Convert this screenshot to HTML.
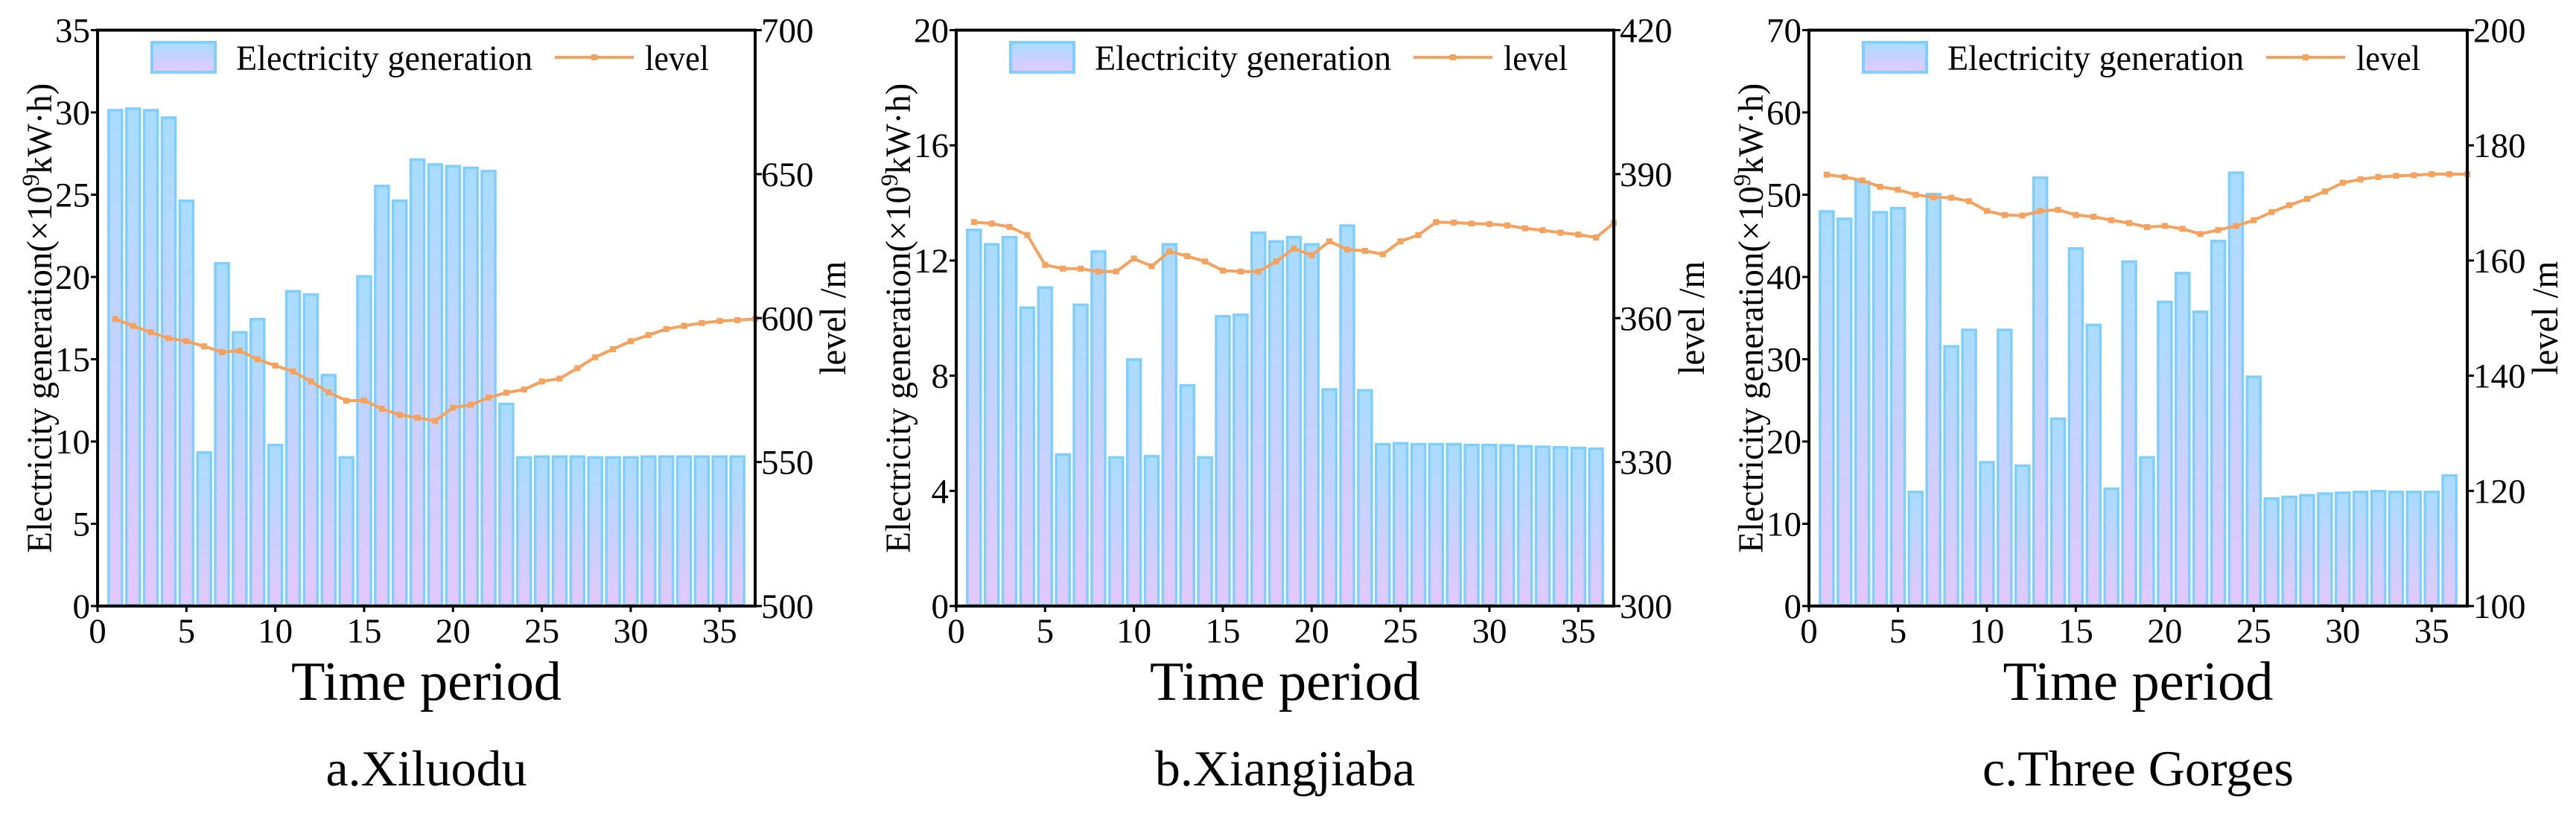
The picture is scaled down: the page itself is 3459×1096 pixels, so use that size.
<!DOCTYPE html>
<html><head><meta charset="utf-8"><style>
html,body{margin:0;padding:0;background:#fff;}
svg, svg text{font-family:"Liberation Serif","Times New Roman",serif;}
</style></head><body>
<svg id="fig" width="3459" height="1091" viewBox="0 0 3459 1091" xmlns="http://www.w3.org/2000/svg" font-family="Liberation Serif, serif">
<defs>
<linearGradient id="barGrad" x1="0" y1="0" x2="0" y2="1">
<stop offset="0" stop-color="#a8dcfe"/><stop offset="1" stop-color="#e4c8fd"/>
</linearGradient>
</defs>
</svg>
<script>
// Panel a: Xiluodu
const genA = [30.2,30.3,30.2,29.75,24.7,9.4,20.9,16.7,17.5,9.85,19.2,19.0,14.1,9.1,20.1,25.6,24.7,27.2,26.9,26.8,26.7,26.5,12.35,9.1,9.15,9.15,9.15,9.1,9.1,9.1,9.15,9.15,9.15,9.15,9.15,9.15];
const levelA = [599.7,597.3,595.1,593,592,590.2,588.2,588.7,585.7,583.5,581.5,578,574.2,571.3,571.4,568.5,566.4,565.4,564.3,568.9,569.9,572.4,574.1,575.2,578,579,582.6,586.4,589.2,592,594.1,596.2,597.3,598.3,599,599.3,599.7];
const leftTicksA = [0,5,10,15,20,25,30,35];
const rightTicksA = [500,550,600,650,700];
// Panel b: Xiangjiaba
const genB = [13.1,12.6,12.85,10.4,11.1,5.3,10.5,12.35,5.2,8.6,5.24,12.6,7.7,5.2,10.1,10.15,13.0,12.7,12.85,12.6,7.56,13.25,7.53,5.66,5.69,5.66,5.66,5.66,5.63,5.63,5.62,5.59,5.57,5.55,5.53,5.5];
const levelB = [380,379.7,379,377.3,371.1,370.3,370.3,369.7,369.7,372.4,370.8,373.9,372.9,371.8,369.9,369.7,369.7,371.8,374.5,373.1,376,374.3,374,373.3,376,377.3,380,379.9,379.7,379.6,379.3,378.7,378.3,377.8,377.4,376.8,379.8];
const leftTicksB = [0,4,8,12,16,20];
const rightTicksB = [300,330,360,390,420];
// Panel c: Three Gorges
const genC = [48.1,47.2,51.7,48.0,48.5,14.0,50.2,31.7,33.7,17.6,33.7,17.2,52.2,22.9,43.6,34.3,14.4,42.0,18.2,37.1,40.6,35.9,44.5,52.8,28.0,13.2,13.4,13.6,13.8,13.9,14.0,14.1,14.0,14.0,14.0,16.0];
const levelC = [174.9,174.5,173.9,172.8,172.3,171.4,171,170.9,170.3,168.6,167.9,167.8,168.6,168.8,167.9,167.6,167,166.5,165.8,166,165.5,164.6,165.3,166,167,168.4,169.6,170.7,172,173.5,174.1,174.5,174.7,174.8,175,175,175];
const leftTicksC = [0,10,20,30,40,50,60,70];
const rightTicksC = [100,120,140,160,180,200];
const xTicks = [0,5,10,15,20,25,30,35];

const NS = "http://www.w3.org/2000/svg";
const FONT = '"Liberation Serif", serif';
const svg = document.getElementById('fig');
function mk(tag, attrs, parent, text){
  const e = document.createElementNS(NS, tag);
  for (const k in attrs) e.setAttribute(k, attrs[k]);
  if (tag === 'text') e.setAttribute('font-family', FONT);
  if (text !== undefined) e.textContent = text;
  parent.appendChild(e); return e;
}
const TOP = 40.5, BOT = 814;
function panel(key, left, right, gen, level, lt, rt, caption){
  const g = mk('g', {}, svg);
  
  
  const lmin = lt[0], lmax = lt[lt.length-1], rmin = rt[0], rmax = rt[rt.length-1];
  const xs = v => left + (v/37)*(right-left);
  const yl = v => BOT - (v-lmin)/(lmax-lmin)*(BOT-TOP);
  const yr = v => BOT - (v-rmin)/(rmax-rmin)*(BOT-TOP);
  const bw = 0.88*(right-left)/37;
  const bg = mk('g', {}, g);
  
  
  gen.forEach((v,i)=>{
    const x = xs(i+1) - bw/2, y = yl(v);
    const r = mk('rect', {x:x+1.5, y:y+1.5, width:bw-3, height:Math.max(0,BOT-y-3), fill:'url(#barGrad)', stroke:'#80cefc', 'stroke-width':3.5}, bg);
    
    
  });
  const pts = level.map((v,i)=>xs(i+1).toFixed(1)+','+yr(v).toFixed(1)).join(' ');
  const pl = mk('polyline', {points:pts, fill:'none', stroke:'#f4a25e', 'stroke-width':4}, g);
  
  
  level.forEach((v,i)=>{
    const m = mk('rect', {x:xs(i+1)-4, y:yr(v)-4, width:8, height:8, fill:'#f4a25e'}, g);
    
    
  });
  const fr = mk('rect', {x:left, y:TOP, width:right-left, height:BOT-TOP, fill:'none', stroke:'#000', 'stroke-width':4}, g);
  
  
  lt.forEach(v=>{
    const y = yl(v);
    mk('line', {x1:left-9, x2:left, y1:y, y2:y, stroke:'#000', 'stroke-width':3}, g);
    const t = mk('text', {x:left-10, y:y+16, 'font-size':47, 'text-anchor':'end'}, g, String(v));
    
    
  });
  rt.forEach(v=>{
    const y = yr(v);
    mk('line', {x1:right, x2:right+9, y1:y, y2:y, stroke:'#000', 'stroke-width':3}, g);
    const t = mk('text', {x:right+8, y:y+16, 'font-size':47}, g, String(v));
    
    
  });
  xTicks.forEach(v=>{
    const x = xs(v);
    mk('line', {x1:x, x2:x, y1:BOT, y2:BOT+8, stroke:'#000', 'stroke-width':3}, g);
    const t = mk('text', {x:x, y:863, 'font-size':47, 'text-anchor':'middle'}, g, String(v));
    
    
  });
  const cx = (left+right)/2, cy = (TOP+BOT)/2;
  const yt = mk('text', {x:0, y:0, 'font-size':48, 'text-anchor':'middle', transform:`translate(${left-62},${cy}) rotate(-90)`, textLength:631, lengthAdjust:'spacingAndGlyphs'}, g);
  
  
  yt.innerHTML = 'Electricity generation(×10<tspan dy="-17" font-size="33">9</tspan><tspan dy="17">kW·h)</tspan>';
  const ry = mk('text', {x:0, y:0, 'font-size':50, 'text-anchor':'middle', transform:`translate(${right+121},${cy}) rotate(-90)`, textLength:153, lengthAdjust:'spacingAndGlyphs'}, g, 'level /m');
  
  
  const xt = mk('text', {x:cx, y:940, 'font-size':74, 'text-anchor':'middle', textLength:363, lengthAdjust:'spacingAndGlyphs'}, g, 'Time period');
  
  
  const cap = mk('text', {x:cx, y:1055, 'font-size':68, 'text-anchor':'middle'}, g, caption);
  
  
  const lg = mk('g', {}, g);
  
  
  const lx = left + 71;
  const lr = mk('rect', {x:lx+2, y:57, width:85, height:40, fill:'url(#barGrad)', stroke:'#80cefc', 'stroke-width':4}, lg);
  
  
  const l1 = mk('text', {x:lx+115, y:94, 'font-size':48, textLength:398, lengthAdjust:'spacingAndGlyphs'}, lg, 'Electricity generation');
  
  
  const ll = mk('line', {x1:lx+543, x2:lx+649, y1:77, y2:77, stroke:'#f4a25e', 'stroke-width':4}, lg);
  
  
  mk('rect', {x:lx+592, y:73, width:8, height:8, fill:'#f4a25e'}, lg);
  const l2 = mk('text', {x:lx+664, y:94, 'font-size':48, textLength:86, lengthAdjust:'spacingAndGlyphs'}, lg, 'level');
  
  
}
panel('a', 131, 1014, genA, levelA, leftTicksA, rightTicksA, 'a.Xiluodu');
panel('b', 1284, 2167, genB, levelB, leftTicksB, rightTicksB, 'b.Xiangjiaba');
panel('c', 2429, 3313, genC, levelC, leftTicksC, rightTicksC, 'c.Three Gorges');
</script>
</body></html>
